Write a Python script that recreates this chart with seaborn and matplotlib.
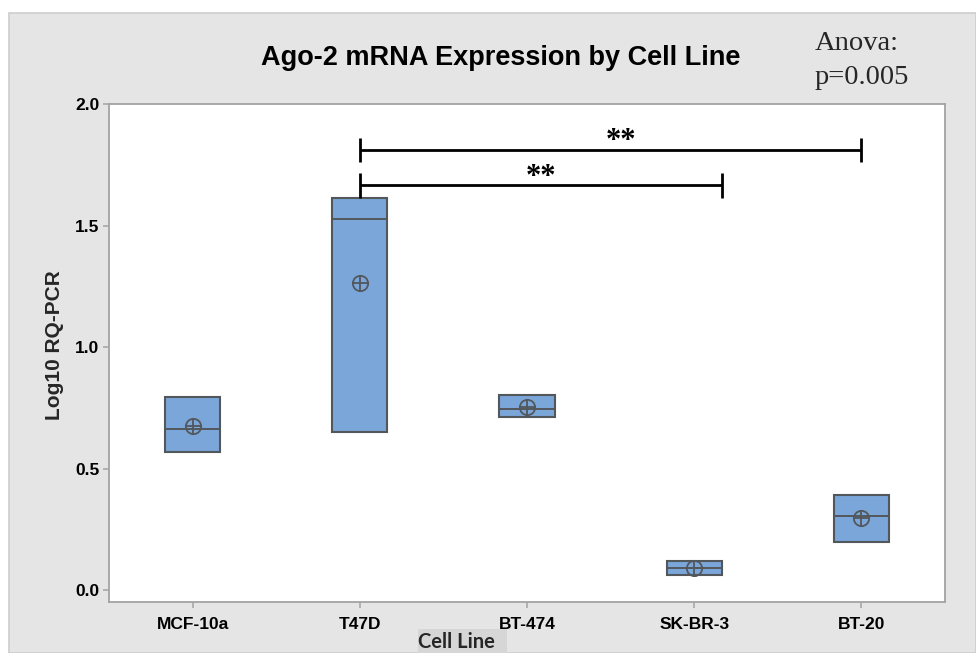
import numpy as np
import pandas as pd
import matplotlib
matplotlib.use("Agg")
import matplotlib.pyplot as plt
from matplotlib.patches import Rectangle
import seaborn as sns

# Ago-2 expression, three replicate log10 RQ values per cell line
cell_lines = ["MCF-10a", "T47D", "BT-474", "SK-BR-3", "BT-20"]
rep_low = [0.568, 0.651, 0.712, 0.063, 0.198]
rep_mid = [0.663, 1.525, 0.746, 0.092, 0.305]
rep_high = [0.796, 1.614, 0.804, 0.121, 0.392]
y_ticks = [0.0, 0.5, 1.0, 1.5, 2.0]

# pairwise comparisons marked as significant
comparisons = [("T47D", "BT-20"), ("T47D", "SK-BR-3")]
comparison_labels = ["**", "**"]

df = pd.DataFrame({"cell": cell_lines, "low": rep_low, "mid": rep_mid, "high": rep_high})
df["span"] = df["high"] - df["low"]
df["mean"] = df[["low", "mid", "high"]].mean(axis=1)

sns.set_theme(style="white")
plt.rcParams["font.family"] = ["Liberation Sans", "DejaVu Sans"]

W, H = 976, 653
fig = plt.figure(figsize=(W / 100, H / 100), dpi=100, facecolor="white")

def fx(px):
    return px / W

def fy(py):
    return 1 - py / H

# grey panel behind the chart
fig.patches.append(Rectangle((fx(9), 0), 1 - fx(9), fy(13), transform=fig.transFigure,
                             facecolor="#e5e5e5", edgecolor="#cdcdcd", linewidth=1.2, zorder=-2))

ax = fig.add_axes([fx(109), fy(602), fx(945) - fx(109), fy(104) - fy(602)])
ax.set_facecolor("white")

fill = "#7BA6D9"
edge = "#52575c"
box_w = 0.33

sns.barplot(data=df, x="cell", y="span", order=cell_lines, bottom=df["low"].to_numpy(),
            color=fill, saturation=1, edgecolor=edge, linewidth=1.5, width=box_w,
            errorbar=None, ax=ax, zorder=2)

pos = np.arange(len(cell_lines))
ax.hlines(df["mid"], pos - box_w / 2, pos + box_w / 2, color=edge, linewidth=1.4, zorder=3)

# mean symbols (circle with cross)
sns.pointplot(x=cell_lines, y=df["mean"].to_numpy(), order=cell_lines, linestyle="none",
              marker="o", markersize=11, markerfacecolor="none", markeredgewidth=1.3,
              color=edge, errorbar=None, ax=ax, zorder=4)
sns.pointplot(x=cell_lines, y=df["mean"].to_numpy(), order=cell_lines, linestyle="none",
              marker="+", markersize=11, markeredgewidth=1.3,
              color=edge, errorbar=None, ax=ax, zorder=4)

# significance brackets
bracket_y = [1.812, 1.665]
star_y = [1.815, 1.668]
half_cap = 0.05
for (a, b), lab, yb, ys in zip(comparisons, comparison_labels, bracket_y, star_y):
    x0 = cell_lines.index(a)
    x1 = cell_lines.index(b)
    if b == "SK-BR-3":
        x1 = x1 + box_w / 2
    ax.plot([x0, x1], [yb, yb], color="black", linewidth=2.0, solid_capstyle="butt", zorder=5)
    for xe in (x0, x1):
        ax.plot([xe, xe], [yb - half_cap, yb + half_cap], color="black", linewidth=2.0,
                solid_capstyle="butt", zorder=5)
    xm = (x0 + x1) / 2 + (0.06 if b == "BT-20" else 0.0)
    ax.text(xm, ys, lab, ha="center", va="baseline", fontsize=22, fontweight="bold",
            family=["Liberation Serif", "DejaVu Serif"], color="black", zorder=6)

ax.set_xlim(-0.5, len(cell_lines) - 0.5)
ax.set_ylim(-0.049, 2.0)
ax.set_yticks(y_ticks)
ax.set_yticklabels([f"{v:.1f}" for v in y_ticks], fontweight="bold", fontsize=12.5)
ax.set_xticks(pos)
ax.set_xticklabels(cell_lines, fontweight="bold", fontsize=12.5)
ax.set_xlabel("")
ax.set_ylabel("Log10 RQ-PCR", fontsize=15, fontweight="bold", va="center")
ax.yaxis.set_label_coords((55 - 109) / (945 - 109), (602 - 345) / (602 - 104))

for s in ax.spines.values():
    s.set_color("#a3a3a3")
    s.set_linewidth(1.3)
ax.tick_params(axis="both", direction="out", length=4, width=1.1, color="#a3a3a3",
               labelcolor="black", left=True, bottom=True)
ax.tick_params(axis="x", pad=7)
ax.tick_params(axis="y", pad=3)

fig.text(fx(501), fy(58), "Ago-2 mRNA Expression by Cell Line", ha="center", va="center",
         fontsize=19.5, fontweight="bold", color="black")
serif = ["Liberation Serif", "DejaVu Serif"]
fig.text(fx(815), fy(44), "Anova:", ha="left", va="center", fontsize=20.5, family=serif)
fig.text(fx(815), fy(78), "p=0.005", ha="left", va="center", fontsize=20.5, family=serif)

# x axis title on its own shaded tab
fig.patches.append(Rectangle((fx(418), 0), fx(507) - fx(418), fy(629), transform=fig.transFigure,
                             facecolor="#d6d6d6", edgecolor="none", zorder=-1))
fig.text(fx(418), fy(652), "Cell Line", ha="left", va="bottom", fontsize=14.5,
         fontweight="bold", family=["Lato", "DejaVu Sans"], zorder=2)

fig.savefig("out.png", dpi=100, facecolor=fig.get_facecolor())
